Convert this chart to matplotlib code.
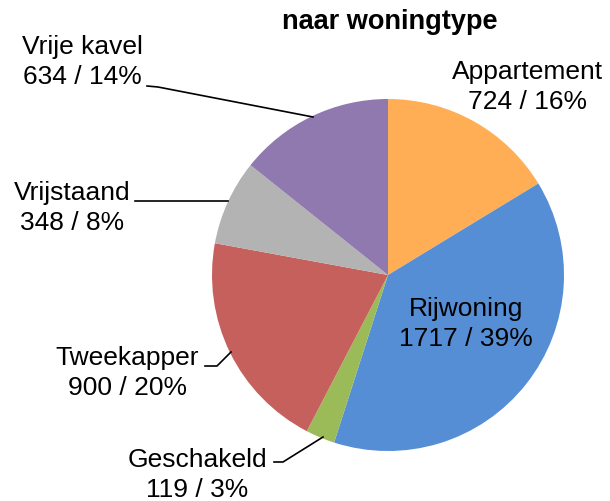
import matplotlib
matplotlib.use('Agg')
import matplotlib.pyplot as plt
import numpy as np

titel = "naar woningtype"
woningtypes = ["Appartement", "Rijwoning", "Geschakeld", "Tweekapper", "Vrijstaand", "Vrije kavel"]
aantallen = [724, 1717, 119, 900, 348, 634]
kleuren = ["#FFAE55", "#558ED5", "#9BBB59", "#C5605D", "#B3B3B3", "#9079AE"]

plt.rcParams['font.family'] = ['Liberation Sans', 'DejaVu Sans']

W, H = 610, 501
fig = plt.figure(figsize=(W / 100, H / 100), dpi=100)

# pie centre (388, 275) px, radius 176 px
cx, cy, r = 388, 275, 176
ax = fig.add_axes([(cx - r) / W, (H - cy - r) / H, 2 * r / W, 2 * r / H])
ax.pie(aantallen, colors=kleuren, startangle=90, counterclock=False,
       radius=1.0, wedgeprops=dict(linewidth=0))
ax.set_xlim(-1, 1)
ax.set_ylim(-1, 1)
ax.set_aspect('equal')
ax.axis('off')

totaal = sum(aantallen)
labels = [f"{n}\n{a} / {round(100 * a / totaal)}%" for n, a in zip(woningtypes, aantallen)]


def px(x, y):
    # pixel -> data coordinates of the pie axes
    return (x - cx) / r, (cy - y) / r


fs = 19
# label positions (pixels) and leader lines
posities = {
    "Appartement": (528, 87),
    "Rijwoning": (466, 324),
    "Geschakeld": (197, 475),
    "Tweekapper": (127, 373),
    "Vrijstaand": (72, 208),
    "Vrije kavel": (82, 62),
}
leiders = {
    "Geschakeld": [(274, 462), (283, 462), (323, 437)],
    "Tweekapper": [(205, 366), (217, 366), (231, 352)],
    "Vrijstaand": [(135, 201), (228, 201)],
    "Vrije kavel": [(147, 86), (158, 87), (313, 117)],
}

for naam, lab in zip(woningtypes, labels):
    x, y = px(*posities[naam])
    ax.text(x, y, lab, ha='center', va='center', fontsize=fs,
            linespacing=1.3, clip_on=False)
    if naam in leiders:
        pts = np.array([px(*p) for p in leiders[naam]])
        ax.plot(pts[:, 0], pts[:, 1], color='black', linewidth=1.2, clip_on=False)

fig.text(390 / W, 1 - 22 / H, titel, ha='center', va='center',
         fontsize=19.5, fontweight='bold')

fig.savefig('out.png', dpi=100)
